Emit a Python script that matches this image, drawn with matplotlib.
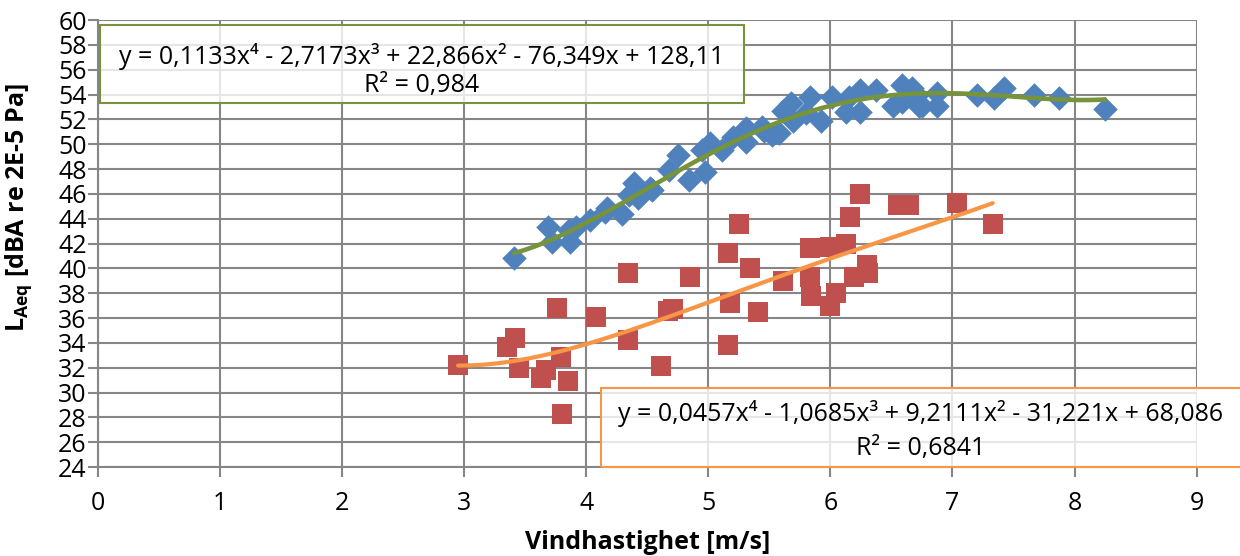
import matplotlib
matplotlib.use("Agg")
import matplotlib.pyplot as plt
from matplotlib.patches import Rectangle
import numpy as np

plt.rcParams['font.family'] = ['Open Sans', 'DejaVu Sans']
plt.rcParams['mathtext.fontset'] = 'custom'
plt.rcParams['mathtext.rm'] = 'Open Sans'
plt.rcParams['mathtext.bf'] = 'Open Sans:bold'

# blue series (diamonds)
blue_x = [3.41, 3.69, 3.72, 3.86, 3.87, 3.92, 4.03, 4.15, 4.17, 4.29, 4.35, 4.39,
          4.42, 4.52, 4.54, 4.68, 4.75, 4.84, 4.95, 4.97, 5.01, 5.11, 5.20, 5.31,
          5.31, 5.44, 5.46, 5.52, 5.58, 5.61, 5.68, 5.69, 5.80, 5.83, 5.92, 6.01,
          6.13, 6.15, 6.24, 6.24, 6.37, 6.51, 6.59, 6.59, 6.67, 6.71, 6.73, 6.75,
          6.87, 6.87, 7.20, 7.34, 7.42, 7.67, 7.87, 8.25]
blue_y = [40.8, 43.3, 42.1, 43.1, 42.1, 43.3, 43.9, 44.5, 44.9, 44.4, 45.9, 46.9,
          45.7, 46.5, 46.3, 47.9, 49.1, 47.1, 49.5, 47.8, 50.1, 49.5, 50.6, 51.3,
          50.2, 51.4, 51.1, 50.7, 50.9, 52.7, 53.3, 51.9, 52.5, 53.8, 51.9, 53.8,
          52.6, 53.8, 54.4, 52.6, 54.4, 53.1, 54.8, 53.4, 54.5, 54.0, 53.1, 53.1,
          54.1, 53.1, 54.0, 53.7, 54.5, 54.0, 53.7, 52.8]

# red series (squares)
red_x = [2.95, 3.35, 3.42, 3.45, 3.63, 3.67, 3.79, 3.85, 3.76, 3.80, 4.08, 4.34,
         4.34, 4.61, 4.67, 4.71, 4.85, 5.16, 5.16, 5.18, 5.25, 5.34, 5.41, 5.61,
         5.83, 5.83, 5.84, 6.00, 6.05, 6.00, 6.13, 6.16, 6.24, 6.19, 6.30, 6.31,
         6.55, 6.64, 7.04, 7.33]
red_y = [32.2, 33.7, 34.4, 32.0, 31.2, 31.8, 32.9, 30.9, 36.8, 28.3, 36.1, 39.6,
         34.2, 32.1, 36.6, 36.7, 39.3, 41.2, 33.8, 37.2, 43.6, 40.0, 36.5, 39.0,
         41.6, 39.3, 37.8, 37.0, 38.0, 41.7, 42.0, 44.1, 46.0, 39.3, 40.3, 39.6,
         45.1, 45.1, 45.3, 43.6]

# trendline coefficients as printed on the chart
blue_coef = [0.1133, -2.7173, 22.866, -76.349, 128.11]
red_coef = [0.0457, -1.0685, 9.2111, -31.221, 68.086]
blue_eq = "y = 0,1133x⁴ - 2,7173x³ + 22,866x² - 76,349x + 128,11"
blue_r2 = "R² = 0,984"
red_eq = "y = 0,0457x⁴ - 1,0685x³ + 9,2111x² - 31,221x + 68,086"
red_r2 = "R² = 0,6841"

fs = 18
fig = plt.figure(figsize=(12.4, 5.56), dpi=100)
ax = fig.add_axes([0.079, 0.160, 0.886, 0.804])

grid_c = '#868686'
ax.scatter(blue_x, blue_y, marker='D', s=12.5**2, color='#4F81BD', zorder=3, linewidths=0)
ax.scatter(red_x, red_y, marker='s', s=14.5**2, color='#C0504D', zorder=3, linewidths=0)

xb = np.linspace(min(blue_x), max(blue_x), 200)
ax.plot(xb, np.polyval(blue_coef, xb), color='#77933C', lw=3.3, zorder=4, solid_capstyle='round')
xr = np.linspace(min(red_x), max(red_x), 200)
ax.plot(xr, np.polyval(red_coef, xr), color='#F79646', lw=3, zorder=4, solid_capstyle='round')

ax.set_xlim(0, 9)
ax.set_ylim(24, 60)
ax.set_xticks(range(0, 10))
ax.set_yticks(range(24, 61, 2))
ax.grid(True, color=grid_c, lw=1.5)
ax.set_axisbelow(True)
for s in ['top', 'right']:
    ax.spines[s].set_visible(False)
for s in ['left', 'bottom']:
    ax.spines[s].set_color(grid_c)
    ax.spines[s].set_linewidth(1.5)
ax.tick_params(colors=grid_c, labelcolor='black', length=7, width=1.5, labelsize=fs, pad=1)
ax.tick_params(axis='x', pad=10)

ax.set_xlabel("Vindhastighet [m/s]", fontsize=fs, fontweight='bold', labelpad=10)
ax.set_ylabel(r"$\mathbf{L_{Aeq}}$ [dBA re 2E-5 Pa]", fontsize=fs, fontweight='bold')
ax.yaxis.set_label_coords(-0.058, 0.58)

# equation boxes
ax.add_patch(Rectangle((0.02, 53.3), 5.27, 6.3, facecolor='white', alpha=0.8,
                       edgecolor='none', zorder=5))
ax.add_patch(Rectangle((0.02, 53.3), 5.27, 6.3, facecolor='none', edgecolor='#77933C',
                       lw=1.5, zorder=6))
ax.text(2.65, 57.1, blue_eq, ha='center', va='center', fontsize=fs, zorder=7)
ax.text(2.65, 54.7, blue_r2, ha='center', va='center', fontsize=fs, zorder=7)

ax.add_patch(Rectangle((4.12, 24.0), 5.3, 6.4, facecolor='white', alpha=0.8,
                       edgecolor='none', zorder=5, clip_on=False))
ax.add_patch(Rectangle((4.12, 24.0), 5.3, 6.4, facecolor='none', edgecolor='#F79646',
                       lw=1.5, zorder=6, clip_on=False))
ax.text(6.74, 28.3, red_eq, ha='center', va='center', fontsize=fs, zorder=7)
ax.text(6.74, 25.5, red_r2, ha='center', va='center', fontsize=fs, zorder=7)

fig.savefig("out.png", dpi=100)
